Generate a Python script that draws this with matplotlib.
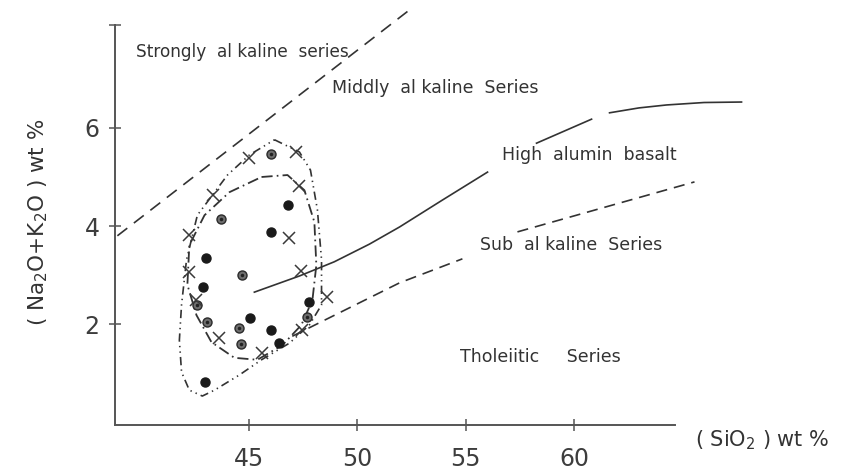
import matplotlib
matplotlib.use("Agg")
import matplotlib.pyplot as plt

plt.rcParams['lines.scale_dashes'] = False
plt.rcParams['font.family'] = ['DejaVu Sans']

W, H = 850, 472
INK = '#333333'

# ---- data (SiO2 wt%, Na2O+K2O wt%) ----
filled_x = [46.79, 46.02, 43.02, 42.90, 45.07, 46.04, 46.41, 47.79, 42.95]
filled_y = [4.43, 3.88, 3.35, 2.76, 2.13, 1.88, 1.61, 2.45, 0.82]

dotted_x = [46.02, 43.72, 44.70, 42.62, 43.07, 44.52, 44.65, 47.70]
dotted_y = [5.46, 4.14, 3.00, 2.39, 2.05, 1.92, 1.59, 2.14]

cross_x = [45.02, 47.18, 43.33, 42.25, 47.33, 46.87, 42.25, 47.42, 48.58, 43.64, 45.62, 47.47, 42.58]
cross_y = [5.38, 5.50, 4.63, 3.82, 4.82, 3.75, 3.06, 3.08, 2.55, 1.71, 1.41, 1.88, 2.49]

# boundary: strongly / middly alkaline
alk_x = [38.93, 52.41]
alk_y = [3.80, 8.41]

# boundary: high alumina basalt (solid, broken)
hab1_x = [45.25, 47.33, 48.94, 50.56, 51.95, 53.93, 56.01]
hab1_y = [2.65, 2.98, 3.27, 3.63, 3.98, 4.53, 5.10]
hab2_x = [58.27, 60.81]
hab2_y = [5.69, 6.18]
hab3_x = [61.64, 63.0, 64.27, 66.0, 67.73]
hab3_y = [6.31, 6.41, 6.47, 6.52, 6.53]

# boundary: sub-alkaline / tholeiitic (dashed, broken)
sub1_x = [47.0, 51.95, 54.85]
sub1_y = [1.75, 2.84, 3.33]
sub2_x = [57.39, 65.56]
sub2_y = [3.88, 4.90]

# field outlines
outer_x = [46.18, 47.33, 47.84, 48.16, 48.35, 48.35, 47.79, 46.87, 45.58, 44.56, 43.41,
           42.85, 42.25, 41.89, 41.79, 41.89, 42.12, 42.62, 44.01, 45.02, 46.18]
outer_y = [5.76, 5.51, 5.14, 4.33, 3.31, 2.39, 1.98, 1.61, 1.27, 0.96, 0.65,
           0.53, 0.65, 1.02, 1.67, 2.39, 3.31, 4.22, 5.04, 5.45, 5.76]
inner_x = [45.58, 46.78, 47.56, 48.02, 48.11, 47.93, 47.42, 46.55, 45.39, 44.33, 43.27,
           42.58, 42.16, 42.25, 42.95, 44.10, 45.58]
inner_y = [5.00, 5.04, 4.73, 4.08, 3.20, 2.49, 1.98, 1.57, 1.27, 1.31, 1.63,
           2.18, 2.80, 3.61, 4.22, 4.69, 5.00]

xticks = [45, 50, 55, 60]
yticks = [2, 4, 6]

fig = plt.figure(figsize=(W / 100, H / 100), dpi=100)
fig.patch.set_facecolor('white')
# axes box in pixels: x 115..675, y 0..425 (from top)
ax = fig.add_axes([115 / W, (H - 425) / H, 560 / W, 425 / H])
ax.set_xlim(38.82, 64.66)
ax.set_ylim(-0.061, 8.612)
ax.patch.set_alpha(0)

for s in ['top', 'right']:
    ax.spines[s].set_visible(False)
ax.spines['left'].set_bounds(-0.061, 8.1)
for s in ['left', 'bottom']:
    ax.spines[s].set_color('#555555')
    ax.spines[s].set_linewidth(1.4)

ax.set_xticks(xticks)
ax.set_xticklabels([str(v) for v in xticks])
ax.set_yticks(yticks + [8.1])
ax.set_yticklabels([str(v) for v in yticks] + [''])
ax.tick_params(direction='inout', length=8, width=1.1, colors='#555555',
               labelcolor='#3d3d3d', labelsize=17)
ax.tick_params(axis='x', pad=12)
ax.tick_params(axis='y', pad=7)

lc = '#333333'
ax.plot(alk_x, alk_y, color=lc, lw=1.2, dashes=(9, 6), clip_on=False)
for xs, ys in [(hab1_x, hab1_y), (hab2_x, hab2_y), (hab3_x, hab3_y)]:
    ax.plot(xs, ys, color=lc, lw=1.2, clip_on=False)
for xs, ys in [(sub1_x, sub1_y), (sub2_x, sub2_y)]:
    ax.plot(xs, ys, color=lc, lw=1.2, dashes=(8, 5), clip_on=False)

ax.plot(outer_x, outer_y, color=lc, lw=1.2, dashes=(6, 3, 1, 3, 1, 3))
ax.plot(inner_x, inner_y, color=lc, lw=1.3, dashes=(8, 3, 1.2, 3))

ax.plot(filled_x, filled_y, 'o', ms=6.5, mfc='#1a1a1a', mec='#1a1a1a', ls='none')
ax.plot(dotted_x, dotted_y, 'o', ms=6.5, mfc='#6e6e6e', mec='#2a2a2a', mew=1.0, ls='none')
ax.plot(dotted_x, dotted_y, '.', ms=3, color='#222222', ls='none')
ax.plot(cross_x, cross_y, 'x', ms=9, mew=1.1, color='#3a3a3a', ls='none')

def ptext(x, y, s, **kw):
    fig.text(x / W, 1 - y / H, s, va='center', color=INK, **kw)

ptext(136, 52, 'Strongly  al kaline  series', fontsize=12.2)
ptext(332, 88, 'Middly  al kaline  Series', fontsize=12.5)
ptext(502, 155, 'High  alumin  basalt', fontsize=12.5)
ptext(480, 245, 'Sub  al kaline  Series', fontsize=12.5)
ptext(460, 357, 'Tholeiitic     Series', fontsize=12.5)
ptext(695, 440, '( SiO$_2$ ) wt %', fontsize=15)
fig.text(38 / W, 1 - 222 / H, '( Na$_2$O+K$_2$O ) wt %', rotation=90,
         va='center', ha='center', fontsize=15.5, color=INK)

fig.savefig('out.png', dpi=100, facecolor='white')
